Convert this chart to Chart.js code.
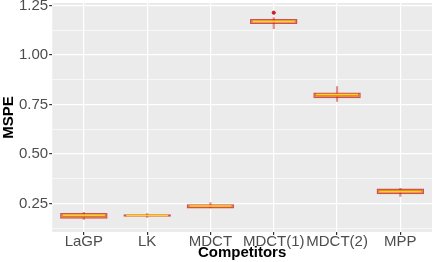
<!DOCTYPE html>
<html lang="en">
  <head>
    <meta charset="UTF-8" />
    <title>MSPE by competitor</title>
    <script src="https://cdn.jsdelivr.net/npm/chart.js@4.4.1/dist/chart.umd.min.js"></script>
  </head>
  <style>
    html, body {
      margin: 0;
      padding: 0;
      background: white;
    }
    #wrap {
      width: 436px;
      height: 262px;
    }
  </style>
  <body>
    <div id="wrap"><canvas id="boxChart"></canvas></div>
    <script>
      const categories = ["LaGP", "LK", "MDCT", "MDCT(1)", "MDCT(2)", "MPP"];
      const whiskerLow = [0.170, 0.180, 0.228, 1.133, 0.765, 0.286];
      const q1 = [0.174, 0.184, 0.226, 1.156, 0.781, 0.297];
      const median = [0.191, 0.190, 0.238, 1.169, 0.800, 0.311];
      const q3 = [0.203, 0.196, 0.247, 1.181, 0.811, 0.326];
      const whiskerHigh = [0.206, 0.200, 0.255, 1.188, 0.840, 0.327];
      const outlierCat = ["MDCT(1)"];
      const outlierVal = [1.213];
      const yTicks = [0.125, 0.25, 0.375, 0.5, 0.625, 0.75, 0.875, 1.0, 1.125, 1.25];

      const isMajor = (v) => Math.abs(v / 0.25 - Math.round(v / 0.25)) < 1e-6;

      // panel background like ggplot grey theme
      const panelBg = {
        id: "panelBg",
        beforeDraw(chart) {
          const { ctx, chartArea: a } = chart;
          ctx.save();
          ctx.fillStyle = "#EBEBEB";
          ctx.fillRect(a.left, a.top, a.right - a.left, a.bottom - a.top);
          ctx.restore();
        },
      };

      new Chart(document.getElementById("boxChart"), {
        data: {
          labels: categories,
          datasets: [
            {
              type: "bar",
              label: "whisker",
              data: categories.map((_, i) => [whiskerLow[i], whiskerHigh[i]]),
              backgroundColor: "rgba(205,50,50,0.55)",
              barThickness: 1.5,
              grouped: false,
              order: 3,
            },
            {
              type: "bar",
              label: "box",
              data: categories.map((_, i) => [q1[i], q3[i]]),
              backgroundColor: "#E07A24",
              borderColor: "rgba(200,30,30,0.75)",
              borderWidth: 1.5,
              borderSkipped: false,
              categoryPercentage: 1,
              barPercentage: 0.75,
              grouped: false,
              order: 2,
            },
            {
              type: "scatter",
              label: "median",
              data: categories.map((c, i) => ({ x: c, y: median[i] })),
              pointStyle: "line",
              pointRadius: 21,
              pointHoverRadius: 21,
              borderColor: "#FFD21F",
              borderWidth: 1.5,
              order: 1,
            },
            {
              type: "scatter",
              label: "outlier",
              data: outlierCat.map((c, i) => ({ x: c, y: outlierVal[i] })),
              pointRadius: 1.6,
              backgroundColor: "#C8202A",
              borderColor: "#C8202A",
              order: 0,
            },
          ],
        },
        options: {
          responsive: true,
          maintainAspectRatio: false,
          animation: false,
          layout: { autoPadding: false, padding: { top: 3, right: 4, left: 0, bottom: 0 } },
          plugins: { legend: { display: false }, tooltip: { enabled: false } },
          scales: {
            x: {
              type: "category",
              offset: true,
              border: { display: false },
              grid: {
                offset: false,
                color: "#FFFFFF",
                lineWidth: 1.2,
                tickLength: 3,
                tickColor: "#333333",
              },
              ticks: {
                color: "#4D4D4D",
                font: { family: "Liberation Sans", size: 15 },
                padding: -2,
                maxRotation: 0,
                autoSkip: false,
              },
              title: {
                display: true,
                text: "Competitors",
                color: "#000000",
                font: { family: "Liberation Sans", size: 15, weight: "bold" },
                padding: { top: -5, bottom: 0 },
              },
            },
            y: {
              min: 0.107,
              max: 1.262,
              border: { display: false },
              afterBuildTicks(scale) {
                scale.ticks = yTicks.map((v) => ({ value: v }));
              },
              afterFit(scale) {
                scale.paddingTop = 0;
                scale.paddingBottom = 0;
              },
              grid: {
                color: "#FFFFFF",
                lineWidth: (c) => (c.tick && isMajor(c.tick.value) ? 1.2 : 0.6),
                tickLength: 3,
                tickColor: (c) =>
                  c.tick && isMajor(c.tick.value) ? "#333333" : "rgba(0,0,0,0)",
              },
              ticks: {
                color: "#4D4D4D",
                font: { family: "Liberation Sans", size: 15 },
                padding: 1,
                callback: (v) => (isMajor(v) ? v.toFixed(2) : ""),
              },
              title: {
                display: true,
                text: "MSPE",
                color: "#000000",
                font: { family: "Liberation Sans", size: 15, weight: "bold" },
                padding: { top: 0, bottom: 0 },
              },
            },
          },
        },
        plugins: [panelBg],
      });
    </script>
  </body>
</html>
